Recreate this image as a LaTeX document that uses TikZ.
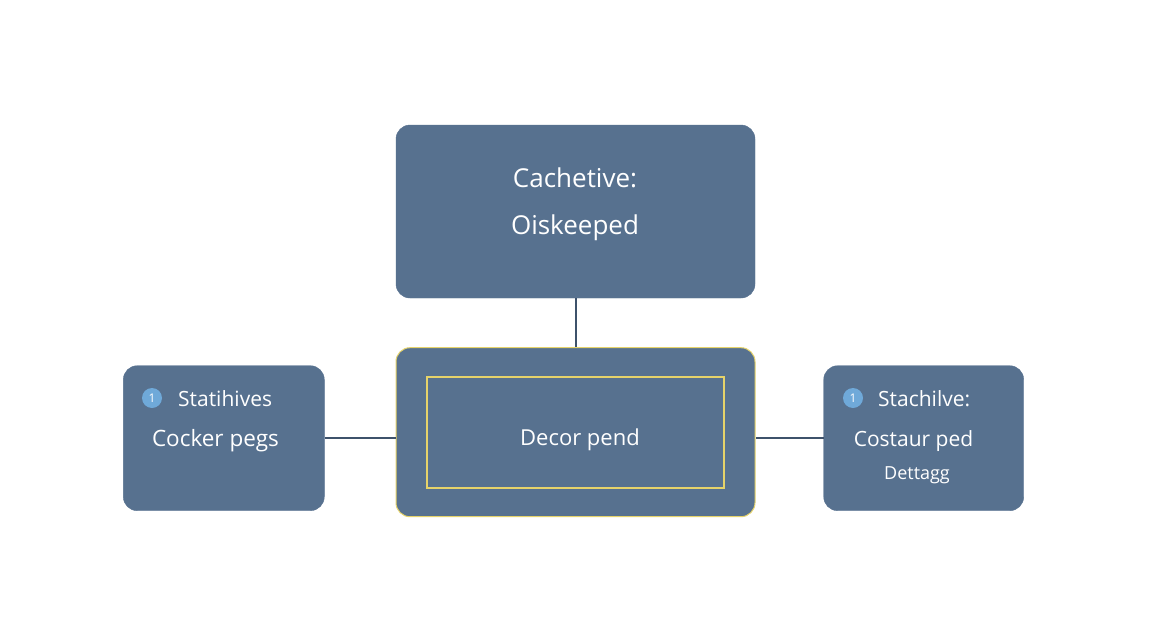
\documentclass[tikz,border=0pt]{standalone}
\usepackage{fontspec}
\setmainfont{Open Sans}
\usetikzlibrary{positioning}
\definecolor{boxblue}{HTML}{57718F}
\definecolor{linkgrey}{HTML}{3E526B}
\definecolor{frameyellow}{HTML}{E6D36A}
\definecolor{badgeblue}{HTML}{6FA9D9}
\begin{document}
\begin{tikzpicture}[x=1pt, y=-1pt, node distance=49pt,
  box/.style = {rectangle, rounded corners=14pt, fill=boxblue, draw=boxblue, minimum width=359pt, minimum height=173pt},
  side/.style = {box, minimum width=201pt, minimum height=145pt},
  label/.style = {text=white, inner sep=0pt},
  badge/.style = {circle, fill=badgeblue, text=white, inner sep=0pt, minimum size=20pt, font=\fontsize{12}{12}\selectfont},
  link/.style = {draw=linkgrey, line width=2pt}]
	\useasboundingbox[fill=white] (0,0) rectangle (1152,640);
	\node[box] (top) at (575.5,211.5) {};
	\node[box, draw=frameyellow, line width=1pt, minimum height=169pt] (mid) [below=49pt of top] {};
	\node[draw=frameyellow, line width=1.6pt, minimum width=297pt, minimum height=111pt] (core) at (mid) {};
	\node[side] (left) [left=71pt of mid, yshift=-6pt] {};
	\node[side, minimum width=200pt] (right) [right=68pt of mid, yshift=-6pt] {};
	% texts
	\node[label, font=\fontsize{26}{26}\selectfont] (t1) at (575,178) {Cachetive:};
	\node[label, font=\fontsize{26}{26}\selectfont] (t2) at (575,228) {Oiskeeped};
	\node[label, font=\fontsize{22}{22}\selectfont] (c1) at (580,440) {Decor pend};
	\node[badge] (lb) at (152,398) {1};
	\node[label, anchor=west, font=\fontsize{21}{21}\selectfont] (l1) at (178,399) {Statihives};
	\node[label, font=\fontsize{22.5}{22.5}\selectfont] (l2) at (215.5,441) {Cocker pegs};
	\node[badge] (rb) at (853,398) {1};
	\node[label, anchor=west, font=\fontsize{21}{21}\selectfont] (r1) at (878,399) {Stachilve:};
	\node[label, font=\fontsize{21}{21}\selectfont] (r2) at (913.5,441) {Costaur ped};
	\node[label, font=\fontsize{18}{18}\selectfont] (r3) at (917,475) {Dettagg};
	% connectors
	\path[link]
		(top) edge (mid)
		(left) edge (left -| mid.west)
		(right) edge (right -| mid.east);
\end{tikzpicture}
\end{document}
